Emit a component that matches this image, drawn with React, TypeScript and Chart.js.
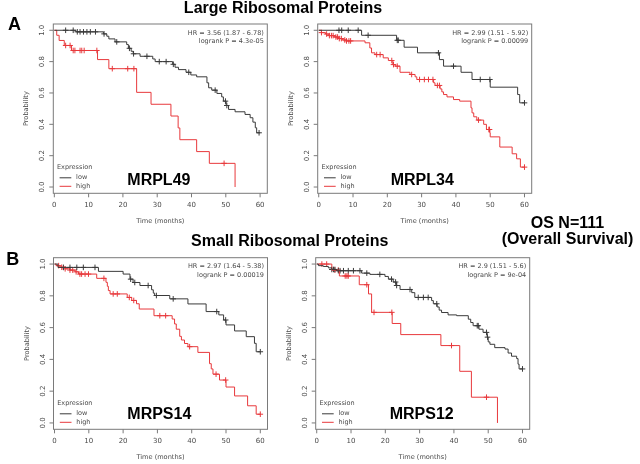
import React, { useEffect, useRef } from 'react';
import { Chart, registerables } from 'chart.js';

Chart.register(...registerables);

// ---------- shared axis data ----------
const X_TICKS = [0, 10, 20, 30, 40, 50, 60];
const Y_TICKS = [0, 0.2, 0.4, 0.6, 0.8, 1.0];
const LEGEND_TITLE = 'Expression';
const SERIES_NAMES = ['low', 'high'];

// ---------- MRPL49 ----------
const MRPL49_LOW_T = [0, 6.3, 14.3, 15.3, 15.9, 17.7, 21.1, 21.6, 22.4, 23.0, 25.0, 28.7, 29.4, 34.5, 35.2, 36.2, 38.4, 39.8, 41.5, 44.5, 45.0, 45.9, 47.4, 48.8, 49.3, 50.1, 50.8, 52.7, 55.6, 57.1, 57.9, 58.6, 59.0, 60];
const MRPL49_LOW_S = [1, 0.99, 0.977, 0.962, 0.945, 0.926, 0.909, 0.885, 0.866, 0.85, 0.834, 0.817, 0.8, 0.783, 0.764, 0.749, 0.732, 0.715, 0.703, 0.665, 0.633, 0.618, 0.597, 0.575, 0.548, 0.52, 0.495, 0.48, 0.463, 0.442, 0.414, 0.378, 0.346, 0.346];
const MRPL49_LOW_CENS = [3.3, 5.5, 6.7, 7.5, 8.5, 9.5, 10.5, 12.0, 14.5, 18.2, 21.9, 23.1, 27.0, 30.6, 32.6, 34.7, 39.2, 46.9, 49.9, 50.3, 59.7];
const MRPL49_HIGH_T = [0, 0.7, 1.4, 2.9, 5.0, 12.6, 15.9, 24.0, 28.2, 34.0, 36.1, 36.6, 41.5, 45.2, 52.7];
const MRPL49_HIGH_S = [1, 0.968, 0.935, 0.903, 0.871, 0.813, 0.755, 0.604, 0.528, 0.453, 0.377, 0.302, 0.226, 0.151, 0];
const MRPL49_HIGH_CENS = [3.3, 4.6, 5.5, 6.0, 7.5, 8.0, 8.7, 12.4, 16.9, 21.4, 23.2, 49.5];

// ---------- MRPL34 ----------
const MRPL34_LOW_T = [0, 12.5, 22.7, 24.9, 28.8, 35.2, 36.4, 41.5, 44.7, 50.0, 58.0, 58.6, 60];
const MRPL34_LOW_S = [1, 0.968, 0.936, 0.892, 0.856, 0.813, 0.771, 0.732, 0.686, 0.637, 0.59, 0.537, 0.537];
const MRPL34_LOW_CENS = [5.9, 6.7, 8.6, 11.5, 14.4, 22.9, 23.2, 34.9, 39.3, 47.1, 49.9, 60];
const MRPL34_HIGH_T = [0, 0.8, 2.0, 3.0, 4.5, 5.8, 7.0, 8.0, 13.5, 14.9, 15.4, 16.4, 18.8, 20.3, 21.6, 22.3, 23.7, 26.6, 28.1, 28.6, 33.5, 33.9, 35.4, 35.9, 36.4, 37.4, 39.3, 41.1, 44.4, 44.7, 45.2, 46.1, 48.1, 48.9, 49.9, 50.0, 52.8, 56.4, 57.7, 58.8, 60];
const MRPL34_HIGH_S = [1, 0.985, 0.976, 0.966, 0.957, 0.947, 0.938, 0.932, 0.92, 0.887, 0.856, 0.845, 0.824, 0.807, 0.781, 0.771, 0.732, 0.718, 0.703, 0.686, 0.665, 0.648, 0.626, 0.607, 0.59, 0.575, 0.558, 0.548, 0.505, 0.473, 0.448, 0.427, 0.4, 0.367, 0.346, 0.32, 0.255, 0.212, 0.18, 0.127, 0.127];
const MRPL34_HIGH_CENS = [0.8, 2.3, 3.1, 3.7, 4.2, 5.0, 5.5, 6.0, 6.6, 7.6, 8.1, 8.8, 9.3, 16.9, 17.9, 21.3, 21.8, 22.9, 27.1, 29.4, 30.8, 32.0, 33.3, 34.6, 35.2, 46.6, 49.6, 49.8, 60];

// ---------- MRPS14 ----------
const MRPS14_LOW_T = [0, 1.0, 12.8, 20.0, 22.0, 22.9, 24.9, 28.3, 28.8, 29.2, 33.6, 38.9, 44.2, 47.9, 49.3, 50.0, 52.5, 55.9, 58.3, 58.8, 60];
const MRPS14_LOW_S = [1, 0.979, 0.954, 0.937, 0.905, 0.884, 0.865, 0.838, 0.817, 0.802, 0.781, 0.749, 0.701, 0.68, 0.648, 0.617, 0.579, 0.543, 0.501, 0.448, 0.448];
const MRPS14_LOW_CENS = [2.6, 4.5, 6.5, 8.4, 11.8, 22.2, 23.4, 27.3, 29.7, 34.6, 47.3, 49.9, 60];
const MRPS14_HIGH_T = [0, 0.5, 1.6, 3.1, 4.5, 6.0, 7.0, 12.3, 15.0, 15.4, 15.7, 16.2, 21.2, 22.5, 23.9, 24.7, 29.0, 34.3, 35.0, 35.5, 36.5, 37.0, 37.9, 38.9, 41.8, 45.2, 45.7, 46.2, 48.1, 50.0, 52.5, 56.3, 58.8, 60];
const MRPS14_HIGH_S = [1, 0.99, 0.98, 0.97, 0.962, 0.951, 0.937, 0.91, 0.885, 0.86, 0.833, 0.812, 0.79, 0.771, 0.75, 0.717, 0.675, 0.654, 0.623, 0.59, 0.545, 0.522, 0.5, 0.48, 0.444, 0.373, 0.34, 0.307, 0.27, 0.226, 0.17, 0.108, 0.055, 0.055];
const MRPS14_HIGH_CENS = [1.2, 2.1, 3.1, 4.5, 5.3, 6.3, 7.4, 7.9, 8.9, 9.9, 14.4, 17.1, 18.3, 21.8, 23.1, 30.7, 32.4, 39.4, 47.1, 49.9, 60];

// ---------- MRPS12 ----------
const MRPS12_LOW_T = [0, 0.5, 1.9, 3.4, 4.4, 5.8, 13.1, 15.5, 19.9, 20.9, 22.3, 23.3, 24.3, 27.7, 28.6, 33.5, 34.0, 35.1, 35.7, 36.4, 38.3, 40.8, 44.2, 44.9, 45.6, 47.3, 48.5, 49.7, 50.0, 50.5, 51.9, 54.9, 55.8, 56.8, 58.3, 58.7, 59.0, 60];
const MRPS12_LOW_S = [1, 0.99, 0.985, 0.976, 0.966, 0.958, 0.943, 0.935, 0.922, 0.905, 0.887, 0.865, 0.84, 0.82, 0.79, 0.77, 0.75, 0.73, 0.71, 0.695, 0.68, 0.675, 0.653, 0.632, 0.612, 0.59, 0.57, 0.54, 0.51, 0.495, 0.474, 0.465, 0.44, 0.42, 0.405, 0.37, 0.34, 0.34];
const MRPS12_LOW_CENS = [4.4, 4.9, 5.3, 6.3, 6.8, 7.8, 9.2, 10.7, 12.6, 14.6, 18.4, 21.8, 23.0, 23.3, 27.2, 29.6, 31.1, 32.5, 35.0, 46.8, 47.1, 49.5, 49.8, 60];
const MRPS12_HIGH_T = [0, 4.4, 6.6, 12.4, 15.1, 16.0, 22.0, 24.5, 36.2, 41.7, 45.1, 52.7];
const MRPS12_HIGH_S = [1, 0.962, 0.925, 0.87, 0.812, 0.696, 0.626, 0.556, 0.487, 0.325, 0.162, 0];
const MRPS12_HIGH_CENS = [1.5, 2.9, 5.3, 6.3, 8.3, 8.8, 9.2, 14.6, 16.7, 21.9, 39.3, 49.5];

// ---------- panel texts ----------
const GENES = ['MRPL49', 'MRPL34', 'MRPS14', 'MRPS12'];
const HR_TEXTS = ['HR = 3.56 (1.87 - 6.78)', 'HR = 2.99 (1.51 - 5.92)', 'HR = 2.97 (1.64 - 5.38)', 'HR = 2.9 (1.51 - 5.6)'];
const P_TEXTS = ['logrank P = 4.3e-05', 'logrank P = 0.00099', 'logrank P = 0.00019', 'logrank P = 9e-04'];
const X_TITLE = 'Time (months)';
const Y_TITLE = 'Probability';

const SERIES = [
  { lowT: MRPL49_LOW_T, lowS: MRPL49_LOW_S, lowC: MRPL49_LOW_CENS, highT: MRPL49_HIGH_T, highS: MRPL49_HIGH_S, highC: MRPL49_HIGH_CENS },
  { lowT: MRPL34_LOW_T, lowS: MRPL34_LOW_S, lowC: MRPL34_LOW_CENS, highT: MRPL34_HIGH_T, highS: MRPL34_HIGH_S, highC: MRPL34_HIGH_CENS },
  { lowT: MRPS14_LOW_T, lowS: MRPS14_LOW_S, lowC: MRPS14_LOW_CENS, highT: MRPS14_HIGH_T, highS: MRPS14_HIGH_S, highC: MRPS14_HIGH_CENS },
  { lowT: MRPS12_LOW_T, lowS: MRPS12_LOW_S, lowC: MRPS12_LOW_CENS, highT: MRPS12_HIGH_T, highS: MRPS12_HIGH_S, highC: MRPS12_HIGH_CENS },
];

// ---------- layout (page pixel coords) ----------
const BOXES = [
  { left: 53.3, top: 24, right: 267.3, bottom: 193.3, geneX: 127.3, geneY: 185 },
  { left: 317.7, top: 24, right: 531.7, bottom: 193.3, geneX: 390.7, geneY: 185 },
  { left: 53.5, top: 257.7, right: 267.5, bottom: 429.3, geneX: 127.3, geneY: 419 },
  { left: 315.7, top: 257.7, right: 529.7, bottom: 429.3, geneX: 389.7, geneY: 419 },
];
const X_MIN = -0.3;
const X_MAX = 62.1;
const Y_MIN = -0.04;
const Y_MAX = 1.04;

const LOW_COLOR = '#3a3a3a';
const HIGH_COLOR = '#e8393c';
const BOX_COLOR = '#7a7a7a';
const TEXT_COLOR = '#4a4a4a';
const SMALL_FONT = '"DejaVu Sans", sans-serif';
const BOLD_FONT = '"Liberation Sans", Arial, sans-serif';

function stepValue(ts: number[], ss: number[], t: number): number {
  let v = ss[0];
  for (let i = 0; i < ts.length; i++) {
    if (ts[i] <= t) v = ss[i];
  }
  return v;
}

const kmPlugin = {
  id: 'kmDecor',
  afterDraw(chart: any, _args: any, opts: any) {
    const { ctx, chartArea } = chart;
    const xs = chart.scales.x;
    const ys = chart.scales.y;
    const idx = opts.index as number;
    const box = BOXES[idx];
    ctx.save();
    // box
    ctx.strokeStyle = BOX_COLOR;
    ctx.lineWidth = 1;
    ctx.strokeRect(chartArea.left, chartArea.top, chartArea.right - chartArea.left, chartArea.bottom - chartArea.top);
    // x ticks
    ctx.fillStyle = TEXT_COLOR;
    ctx.font = `7px ${SMALL_FONT}`;
    ctx.textAlign = 'center';
    ctx.textBaseline = 'middle';
    ctx.beginPath();
    for (const v of X_TICKS) {
      const px = xs.getPixelForValue(v);
      ctx.moveTo(px, chartArea.bottom);
      ctx.lineTo(px, chartArea.bottom + 4);
      ctx.fillText(String(v), px, chartArea.bottom + 12);
    }
    // y ticks
    for (const v of Y_TICKS) {
      const py = ys.getPixelForValue(v);
      ctx.moveTo(chartArea.left, py);
      ctx.lineTo(chartArea.left - 4, py);
    }
    ctx.stroke();
    for (const v of Y_TICKS) {
      const py = ys.getPixelForValue(v);
      ctx.save();
      ctx.translate(chartArea.left - 10.8, py);
      ctx.rotate(-Math.PI / 2);
      ctx.fillText(v.toFixed(1), 0, 0);
      ctx.restore();
    }
    // axis titles
    ctx.font = `6.6px ${SMALL_FONT}`;
    ctx.fillText(X_TITLE, (chartArea.left + chartArea.right) / 2, chartArea.bottom + 28.4);
    ctx.save();
    ctx.translate(chartArea.left - 26.6, (chartArea.top + chartArea.bottom) / 2);
    ctx.rotate(-Math.PI / 2);
    ctx.fillText(Y_TITLE, 0, 0);
    ctx.restore();
    // HR text
    ctx.textAlign = 'right';
    ctx.font = `6.5px ${SMALL_FONT}`;
    ctx.fillText(HR_TEXTS[idx], chartArea.right - 3.5, chartArea.top + 9);
    ctx.fillText(P_TEXTS[idx], chartArea.right - 3.5, chartArea.top + 17.6);
    // legend
    ctx.textAlign = 'left';
    ctx.fillText(LEGEND_TITLE, chartArea.left + 3.7, chartArea.bottom - 25.5);
    const colors = [chart.data.datasets[0].borderColor, chart.data.datasets[1].borderColor];
    const offs = [15.5, 7];
    for (let k = 0; k < 2; k++) {
      const y = chartArea.bottom - offs[k];
      ctx.strokeStyle = colors[k];
      ctx.beginPath();
      ctx.moveTo(chartArea.left + 6.3, y);
      ctx.lineTo(chartArea.left + 18, y);
      ctx.stroke();
      ctx.fillStyle = TEXT_COLOR;
      ctx.fillText(SERIES_NAMES[k], chartArea.left + 22.8, y);
    }
    // gene label
    ctx.fillStyle = '#000';
    ctx.font = `bold 16px ${BOLD_FONT}`;
    ctx.textBaseline = 'alphabetic';
    ctx.fillText(GENES[idx], box.geneX, box.geneY);
    ctx.restore();
  },
};

function KMChart({ index }: { index: number }) {
  const ref = useRef<HTMLCanvasElement | null>(null);
  useEffect(() => {
    const canvas = ref.current;
    if (!canvas) return;
    const s = SERIES[index];
    const box = BOXES[index];
    const line = (ts: number[], ss: number[]) => ts.map((t, i) => ({ x: t, y: ss[i] }));
    const cens = (cs: number[], ts: number[], ss: number[]) => cs.map((t) => ({ x: t, y: stepValue(ts, ss, t) }));
    const chart = new Chart(canvas, {
      type: 'line',
      data: {
        datasets: [
          { label: 'low', data: line(s.lowT, s.lowS), borderColor: LOW_COLOR, borderWidth: 1, stepped: 'before', pointRadius: 0, fill: false },
          { label: 'high', data: line(s.highT, s.highS), borderColor: HIGH_COLOR, borderWidth: 1, stepped: 'before', pointRadius: 0, fill: false },
          { label: 'low censored', data: cens(s.lowC, s.lowT, s.lowS), showLine: false, pointStyle: 'cross', pointRadius: 2.8, borderColor: LOW_COLOR, borderWidth: 1, backgroundColor: LOW_COLOR },
          { label: 'high censored', data: cens(s.highC, s.highT, s.highS), showLine: false, pointStyle: 'cross', pointRadius: 2.8, borderColor: HIGH_COLOR, borderWidth: 1, backgroundColor: HIGH_COLOR },
        ],
      } as any,
      options: {
        responsive: false,
        animation: false,
        devicePixelRatio: 1,
        layout: { padding: { left: box.left, top: box.top, right: 640 - box.right, bottom: 464 - box.bottom } },
        plugins: { legend: { display: false }, tooltip: { enabled: false }, kmDecor: { index } } as any,
        scales: {
          x: { type: 'linear', min: X_MIN, max: X_MAX, display: false },
          y: { type: 'linear', min: Y_MIN, max: Y_MAX, display: false },
        },
      },
      plugins: [kmPlugin],
    });
    return () => chart.destroy();
  }, [index]);
  return <canvas ref={ref} width={640} height={464} style={{ position: 'absolute', left: 0, top: 0, width: 640, height: 464 }} />;
}

const HEADINGS = [
  { text: 'Large Ribosomal Proteins', cx: 283, top: -0.2, size: 16 },
  { text: 'Small Ribosomal Proteins', cx: 289.7, top: 233.2, size: 16 },
  { text: 'OS N=111', cx: 567.5, top: 215.3, size: 16 },
  { text: '(Overall Survival)', cx: 567.5, top: 231, size: 16 },
];
const PANEL_LETTERS = [
  { text: 'A', left: 8, top: 14.8, size: 18 },
  { text: 'B', left: 6.2, top: 249.8, size: 18 },
];

export default function App() {
  return (
    <div style={{ position: 'absolute', left: 0, top: 0, width: 640, height: 464, background: '#fff', overflow: 'hidden' }}>
      {[0, 1, 2, 3].map((i) => (
        <KMChart key={i} index={i} />
      ))}
      {HEADINGS.map((h) => (
        <div
          key={h.text}
          style={{
            position: 'absolute', left: h.cx, top: h.top, transform: 'translateX(-50%)', whiteSpace: 'nowrap',
            font: `bold ${h.size}px/${h.size}px "Liberation Sans", Arial, sans-serif`, color: '#000',
          }}
        >
          {h.text}
        </div>
      ))}
      {PANEL_LETTERS.map((h) => (
        <div
          key={h.text}
          style={{
            position: 'absolute', left: h.left, top: h.top, whiteSpace: 'nowrap',
            font: `bold ${h.size}px/${h.size}px "Liberation Sans", Arial, sans-serif`, color: '#000',
          }}
        >
          {h.text}
        </div>
      ))}
    </div>
  );
}
